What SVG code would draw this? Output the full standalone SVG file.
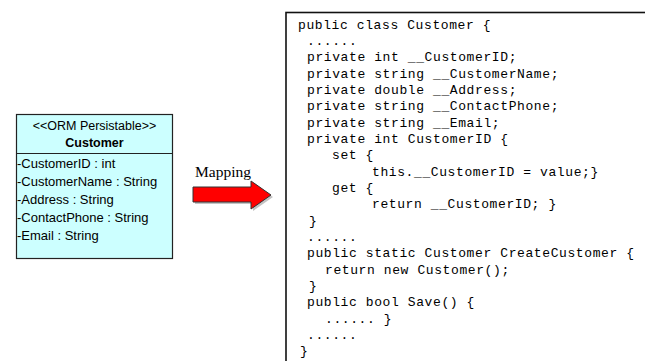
<svg xmlns="http://www.w3.org/2000/svg" width="645" height="361" viewBox="0 0 645 361">
<style>
.cls{fill:#ccffff;stroke:#222;stroke-width:1.2}
.sans{font-family:"Liberation Sans",Arial,sans-serif;font-size:12.5px;fill:#000}
.attr{font-family:"Liberation Sans",Arial,sans-serif;font-size:13px;fill:#000}
.code{font-family:"Liberation Mono","DejaVu Sans Mono",monospace;font-size:13px;letter-spacing:0.6px;fill:#000}
</style>
<rect width="645" height="361" fill="#fff"/>
<g id="class-customer">
<rect class="cls" x="16.5" y="114.5" width="156" height="144"/>
<line x1="16.5" y1="153.5" x2="172.5" y2="153.5" stroke="#222" stroke-width="1.2"/>
<text class="sans" x="94.5" y="130" text-anchor="middle">&lt;&lt;ORM Persistable&gt;&gt;</text>
<text class="sans" x="94.5" y="147" text-anchor="middle" font-weight="bold" font-size="13">Customer</text>
<text class="attr" x="17" y="168">-CustomerID : int</text>
<text class="attr" x="17" y="186">-CustomerName : String</text>
<text class="attr" x="17" y="204">-Address : String</text>
<text class="attr" x="17" y="222">-ContactPhone : String</text>
<text class="attr" x="17" y="240">-Email : String</text>
</g>
<g id="connectors">
<polygon points="195,189 253,189 253,183 273,197 253,211 253,204 195,204" fill="#888" opacity="0.5"/>
<polygon points="193,187 251,187 251,181 271,195 251,209 251,202 193,202" fill="#ff0000" stroke="#333" stroke-width="1"/>
<text x="195" y="177" font-family="'Liberation Serif','Times New Roman',serif" font-size="15.5px" fill="#000">Mapping</text>
</g>
<g id="code-customer">
<rect x="286" y="12.5" width="370" height="360" fill="#fff" stroke="#111" stroke-width="1.6"/>
<text class="code" x="298" y="29">public class Customer {</text>
<text class="code" x="307" y="45">......</text>
<text class="code" x="307" y="61">private int __CustomerID;</text>
<text class="code" x="307" y="77.5">private string __CustomerName;</text>
<text class="code" x="307" y="94">private double __Address;</text>
<text class="code" x="307" y="110">private string __ContactPhone;</text>
<text class="code" x="307" y="126.5">private string __Email;</text>
<text class="code" x="307" y="143">private int CustomerID {</text>
<text class="code" x="332" y="159">set {</text>
<text class="code" x="372" y="175.5">this.__CustomerID = value;}</text>
<text class="code" x="332" y="192">get {</text>
<text class="code" x="372" y="208">return __CustomerID; }</text>
<text class="code" x="309" y="224.5">}</text>
<text class="code" x="307" y="241">......</text>
<text class="code" x="307" y="257">public static Customer CreateCustomer {</text>
<text class="code" x="325" y="273.5">return new Customer();</text>
<text class="code" x="309" y="290">}</text>
<text class="code" x="307" y="306">public bool Save() {</text>
<text class="code" x="325" y="322.5">...... }</text>
<text class="code" x="307" y="339">......</text>
<text class="code" x="300" y="355">}</text>
</g>
</svg>
